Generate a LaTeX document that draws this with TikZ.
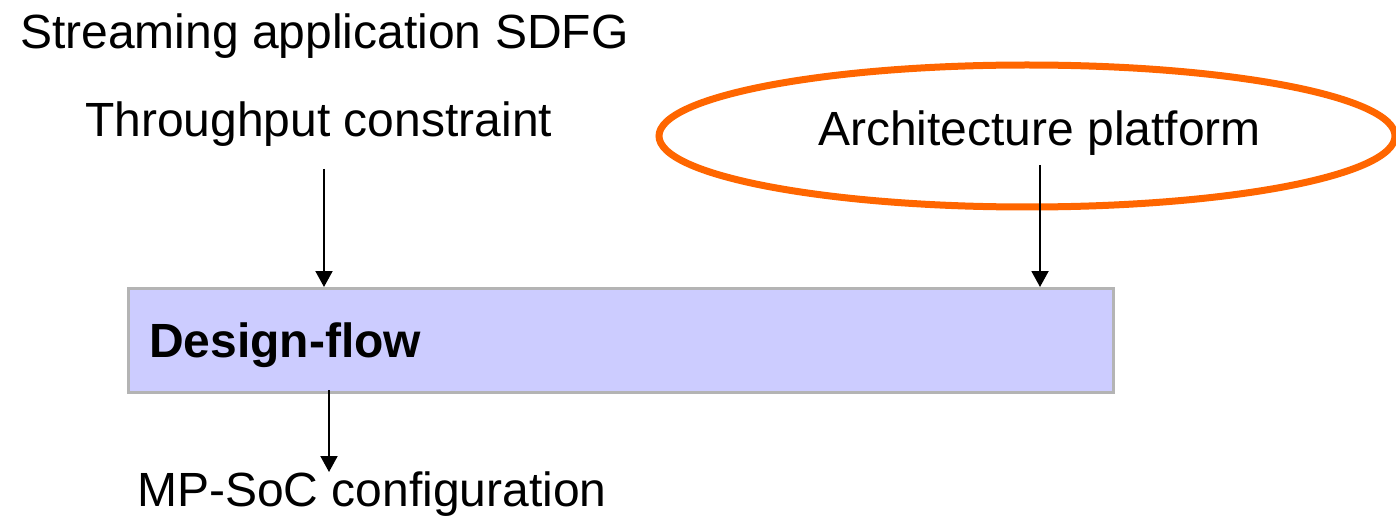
\documentclass[tikz,border=0pt]{standalone}
\usepackage{fontspec}
\setmainfont{Liberation Sans}
\usetikzlibrary{arrows.meta,shapes.geometric}
\definecolor{ringorange}{HTML}{FF6600}
\definecolor{flowfill}{HTML}{CCCCFF}
\definecolor{flowedge}{HTML}{B4B4B4}
\begin{document}
\begin{tikzpicture}[x=1pt,y=-1pt,
  label/.style={inner sep=0pt,anchor=base west,font=\fontsize{48}{56}\selectfont},
  flowarrow/.style={line width=2pt,-{Triangle[width=17pt,length=16pt]}},
  flowbox/.style={draw=flowedge,fill=flowfill,line width=3pt,minimum width=985pt,minimum height=104pt,anchor=north west,inner sep=0pt},
  ring/.style={ellipse,draw=ringorange,line width=7pt,minimum width=736pt,minimum height=142pt,inner sep=0pt}]
\useasboundingbox (0,0) rectangle (1396,521);

% inputs
\node[label] (sdfg) at (20,49) {Streaming application SDFG};
\node[label] (thr) at (85,137) {Throughput constraint};
\node[ring] (ring) at (1027,136) {};
\node[label] (arch) at (818,146) {Architecture platform};

% design flow block
\node[flowbox] (flow) at (127,287) {};
\node[label,font=\fontsize{48}{56}\selectfont\bfseries] (flowtxt) at (149,357) {Design-flow};

% output
\node[label] (mpsoc) at (137,506) {MP-SoC configuration};

% connectors
\coordinate (throut) at (324,169);
\coordinate (archout) at (1040,165);
\coordinate (flowout) at (329,390);
\coordinate (mpsocin) at (329,472);
\draw[flowarrow] (throut) -- (throut |- flow.north);
\draw[flowarrow] (archout) -- (archout |- flow.north);
\draw[flowarrow] (flowout) -- (mpsocin);
\end{tikzpicture}
\end{document}
